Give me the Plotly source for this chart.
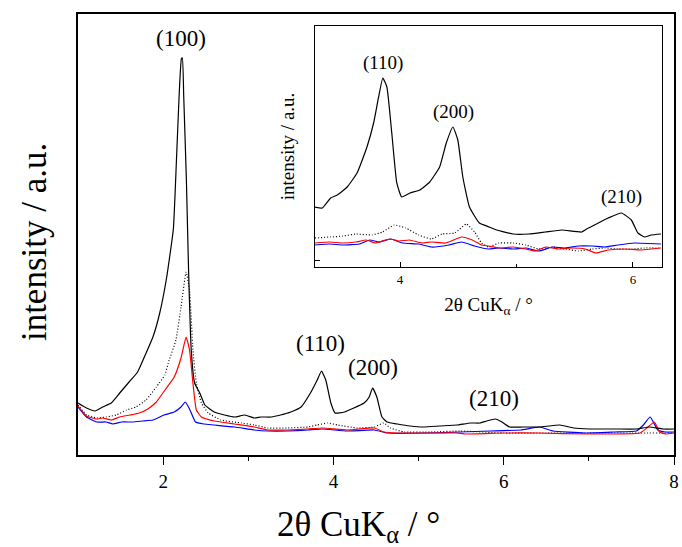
import plotly.graph_objects as go

# ---------------- main pattern (2θ from 1 to 8°) ----------------
black_x = [1.00, 1.10, 1.20, 1.29, 1.39, 1.49, 1.60, 1.70, 1.80, 1.88, 1.96, 2.04, 2.12, 2.155,
           2.187, 2.214, 2.226, 2.242, 2.273, 2.30, 2.33, 2.37, 2.43, 2.49, 2.60, 2.72, 2.84,
           2.96, 3.07, 3.15, 3.27, 3.38, 3.50, 3.62, 3.73, 3.81, 3.86, 3.91, 3.97, 4.02, 4.13,
           4.24, 4.36, 4.42, 4.46, 4.51, 4.57, 4.63, 4.75, 4.90, 5.06, 5.25, 5.45, 5.61, 5.72,
           5.80, 5.90, 5.98, 6.07, 6.23, 6.42, 6.66, 6.82, 7.01, 7.13, 7.32, 7.56, 7.71, 7.87, 8.00]
black_y = [52, 47, 44, 48, 52, 62, 73, 83, 102, 118, 142, 177, 226, 292,
           358, 396, 397, 358, 275, 180, 105, 72, 62, 50, 43, 40, 38,
           40, 37, 38, 38, 40, 43, 48, 62, 75, 84, 75, 52, 42, 43,
           47, 52, 58, 67, 58, 38, 33, 31, 29, 28, 29, 30, 32, 32,
           34, 36, 33, 28, 28, 28, 30, 27, 26, 26, 26, 26, 28, 26, 26]

dotted_x = [1.00, 1.10, 1.22, 1.33, 1.45, 1.57, 1.68, 1.80, 1.92, 2.02, 2.06, 2.15, 2.21, 2.27,
            2.31, 2.35, 2.39, 2.45, 2.53, 2.68, 2.92, 3.07, 3.23, 3.46, 3.70, 3.81, 3.93, 4.05,
            4.28, 4.48, 4.59, 4.67, 4.83, 5.14, 5.49, 6.00, 6.50, 7.00, 7.50, 8.00]
dotted_y = [50, 40, 37, 38, 40, 45, 48, 55, 68, 80, 92, 115, 148, 183,
            165, 105, 72, 52, 42, 35, 32, 30, 27, 27, 28, 30, 32, 30,
            27, 28, 32, 27, 23, 23, 24, 22, 22, 22, 22, 22]

red_x = [1.00, 1.10, 1.22, 1.29, 1.39, 1.49, 1.61, 1.72, 1.82, 1.92, 2.03, 2.13, 2.21, 2.27,
         2.31, 2.35, 2.39, 2.45, 2.60, 2.84, 3.07, 3.23, 3.46, 3.70, 3.87, 4.16, 4.48, 4.59,
         4.75, 5.10, 5.45, 5.55, 6.00, 6.40, 7.00, 7.60, 7.68, 7.77, 7.83, 7.90, 8.00]
red_y = [49, 39, 36, 37, 35, 38, 40, 42, 46, 53, 66, 78, 97, 118,
         105, 72, 45, 38, 34, 31, 28, 25, 25, 26, 27, 25, 27, 23,
         22, 22, 22, 21, 22, 22, 21, 22, 27, 33, 23, 21, 22]

blue_x = [1.00, 1.10, 1.22, 1.33, 1.41, 1.51, 1.64, 1.76, 1.88, 2.01, 2.13, 2.21, 2.26, 2.31,
          2.38, 2.48, 2.60, 2.84, 3.07, 3.23, 3.46, 3.70, 3.87, 4.16, 4.48, 4.63, 5.10, 5.49,
          5.84, 6.20, 6.42, 6.58, 6.95, 7.30, 7.56, 7.64, 7.72, 7.81, 7.90, 8.00]
blue_y = [48, 38, 33, 33, 31, 33, 33, 34, 35, 40, 43, 48, 53, 46,
          33, 31, 30, 28, 25, 24, 24, 25, 26, 24, 25, 22, 22, 23,
          24, 25, 28, 24, 22, 23, 24, 30, 38, 25, 23, 23]

# ---------------- inset: detail of the (110), (200), (210) region ----------------
in_black_x = [3.268, 3.333, 3.404, 3.461, 3.546, 3.631, 3.716, 3.773, 3.816, 3.852, 3.887, 3.929,
              3.972, 4.014, 4.085, 4.170, 4.255, 4.340, 4.397, 4.454, 4.496, 4.539, 4.596, 4.681,
              4.766, 4.83, 4.97, 5.106, 5.248, 5.390, 5.560, 5.617, 5.702, 5.787, 5.901, 5.986,
              6.043, 6.099, 6.156, 6.241]
in_black_y = [60, 59, 69, 72, 80, 94, 120, 144, 170, 189, 180, 134,
              84, 70, 74, 77, 85, 100, 124, 140, 127, 90, 60, 44,
              40, 37, 33, 33, 35, 37, 35, 39, 44, 49, 54, 47,
              34, 30, 32, 33]

in_dotted_x = [3.27, 3.40, 3.51, 3.62, 3.76, 3.85, 3.95, 4.05, 4.16, 4.27, 4.36, 4.47, 4.57, 4.64,
               4.70, 4.76, 4.85, 4.97, 5.08, 5.19, 5.31, 5.42, 5.53, 5.65, 5.76, 5.87, 5.99, 6.10, 6.24]
in_dotted_y = [29, 30, 31, 33, 32, 35, 42, 39, 32, 28, 33, 34, 43, 35,
               24, 20, 24, 24, 22, 18, 20, 18, 16, 18, 19, 18, 18, 19, 19]

in_red_x = [3.27, 3.40, 3.51, 3.62, 3.71, 3.79, 3.91, 3.99, 4.08, 4.19, 4.27, 4.39, 4.53, 4.62,
            4.70, 4.76, 4.85, 4.97, 5.08, 5.16, 5.25, 5.36, 5.48, 5.59, 5.68, 5.79, 5.93, 6.07, 6.24]
in_red_y = [24, 25, 24, 25, 27, 24, 28, 26, 27, 24, 25, 24, 30, 27,
            22, 21, 19, 20, 18, 16, 20, 18, 19, 18, 14, 17, 18, 17, 19]

in_blue_x = [3.27, 3.40, 3.51, 3.65, 3.74, 3.82, 3.92, 4.02, 4.16, 4.27, 4.42, 4.53, 4.64, 4.76,
             4.85, 4.97, 5.08, 5.19, 5.31, 5.42, 5.53, 5.65, 5.76, 5.87, 6.01, 6.24]
in_blue_y = [22, 23, 22, 23, 27, 25, 28, 24, 23, 20, 22, 25, 21, 18,
             19, 18, 19, 16, 20, 19, 21, 21, 20, 22, 24, 23]

# reflection labels: (text, 2θ, height)
main_labels = [("(100)", 2.21, 417), ("(110)", 3.85, 112), ("(200)", 4.46, 88), ("(210)", 5.89, 57)]
inset_labels = [("(110)", 3.855, 204), ("(200)", 4.46, 155), ("(210)", 5.90, 70)]

FONT = "Liberation Serif, Times New Roman, serif"
RED = "#ff0000"
BLUE = "#0000ff"
DOTS = "1px,2px"

fig = go.Figure()


def add_set(xa, ya, specs):
    for xs, ys, color, dash in specs:
        fig.add_trace(go.Scatter(
            x=xs, y=ys, mode="lines", xaxis=xa, yaxis=ya,
            line=dict(color=color, width=1.2, dash=dash, shape="spline", smoothing=0.4),
            showlegend=False, hoverinfo="skip"))


add_set("x", "y", [
    (dotted_x, dotted_y, "black", DOTS),
    (blue_x, blue_y, BLUE, "solid"),
    (red_x, red_y, RED, "solid"),
    (black_x, black_y, "black", "solid"),
])
add_set("x2", "y2", [
    (in_dotted_x, in_dotted_y, "black", DOTS),
    (in_blue_x, in_blue_y, BLUE, "solid"),
    (in_red_x, in_red_y, RED, "solid"),
    (in_black_x, in_black_y, "black", "solid"),
])

annotations = []
for txt, xv, yv in main_labels:
    annotations.append(dict(text=txt, x=xv, y=yv, xref="x", yref="y", showarrow=False,
                            font=dict(family=FONT, size=23, color="black")))
for txt, xv, yv in inset_labels:
    annotations.append(dict(text=txt, x=xv, y=yv, xref="x2", yref="y2", showarrow=False,
                            font=dict(family=FONT, size=19, color="black")))

# main axis titles
annotations.append(dict(text="2θ CuK<sub>α</sub> / °", x=0.47, y=-0.163, xref="paper", yref="paper",
                        xanchor="center", yanchor="middle", showarrow=False,
                        font=dict(family=FONT, size=35, color="black")))
annotations.append(dict(text="intensity / a.u.", x=-0.072, y=0.483, xref="paper", yref="paper",
                        xanchor="center", yanchor="middle", textangle=-90, showarrow=False,
                        font=dict(family=FONT, size=35, color="black")))

fig.update_layout(
    width=682, height=547,
    margin=dict(l=78, r=3, t=14, b=92),
    paper_bgcolor="white", plot_bgcolor="white",
    font=dict(family=FONT, color="black"),
    annotations=annotations,
    xaxis=dict(domain=[0, 1], range=[1, 8], anchor="y",
               showline=True, linewidth=2, linecolor="black", mirror=True,
               showgrid=False, zeroline=False,
               tickvals=[2, 4, 6, 8], ticks="outside", ticklen=8, tickwidth=1.2, tickcolor="black",
               minor=dict(tickvals=[3, 5, 7], ticks="outside", ticklen=4, tickwidth=1.2, tickcolor="black"),
               tickfont=dict(family=FONT, size=19, color="black")),
    # inner half of the crossing tick marks on the main 2θ axis
    xaxis3=dict(overlaying="x", matches="x", anchor="y", range=[1, 8],
                showline=False, showgrid=False, zeroline=False, showticklabels=False,
                tickvals=[2, 4, 6, 8], ticks="inside", ticklen=8, tickwidth=1.2, tickcolor="black",
                minor=dict(tickvals=[3, 5, 7], ticks="inside", ticklen=4, tickwidth=1.2, tickcolor="black")),
    yaxis=dict(domain=[0, 1], range=[0, 441], anchor="x",
               showline=True, linewidth=2, linecolor="black", mirror=True,
               showgrid=False, zeroline=False, showticklabels=False, ticks=""),
    xaxis2=dict(domain=[0.3977, 0.980], range=[3.27, 6.25], anchor="y2",
                showline=True, linewidth=1, linecolor="black", mirror=True,
                showgrid=False, zeroline=False,
                tickvals=[4, 6], ticks="inside", ticklen=5, tickwidth=1, tickcolor="black",
                minor=dict(tickvals=[5], ticks="inside", ticklen=3, tickwidth=1, tickcolor="black"),
                tickfont=dict(family=FONT, size=13, color="black"),
                title=dict(text="2θ CuK<sub>α</sub> / °", standoff=12,
                           font=dict(family=FONT, size=19, color="black"))),
    yaxis2=dict(domain=[0.4263, 0.9728], range=[0, 241], anchor="x2",
                showline=True, linewidth=1, linecolor="black", mirror=True,
                showgrid=False, zeroline=False, showticklabels=False,
                tickvals=[7], ticks="inside", ticklen=5, tickwidth=1, tickcolor="black",
                title=dict(text="intensity / a.u.", standoff=14,
                           font=dict(family=FONT, size=19, color="black"))),
)

fig.write_html("out.html")
